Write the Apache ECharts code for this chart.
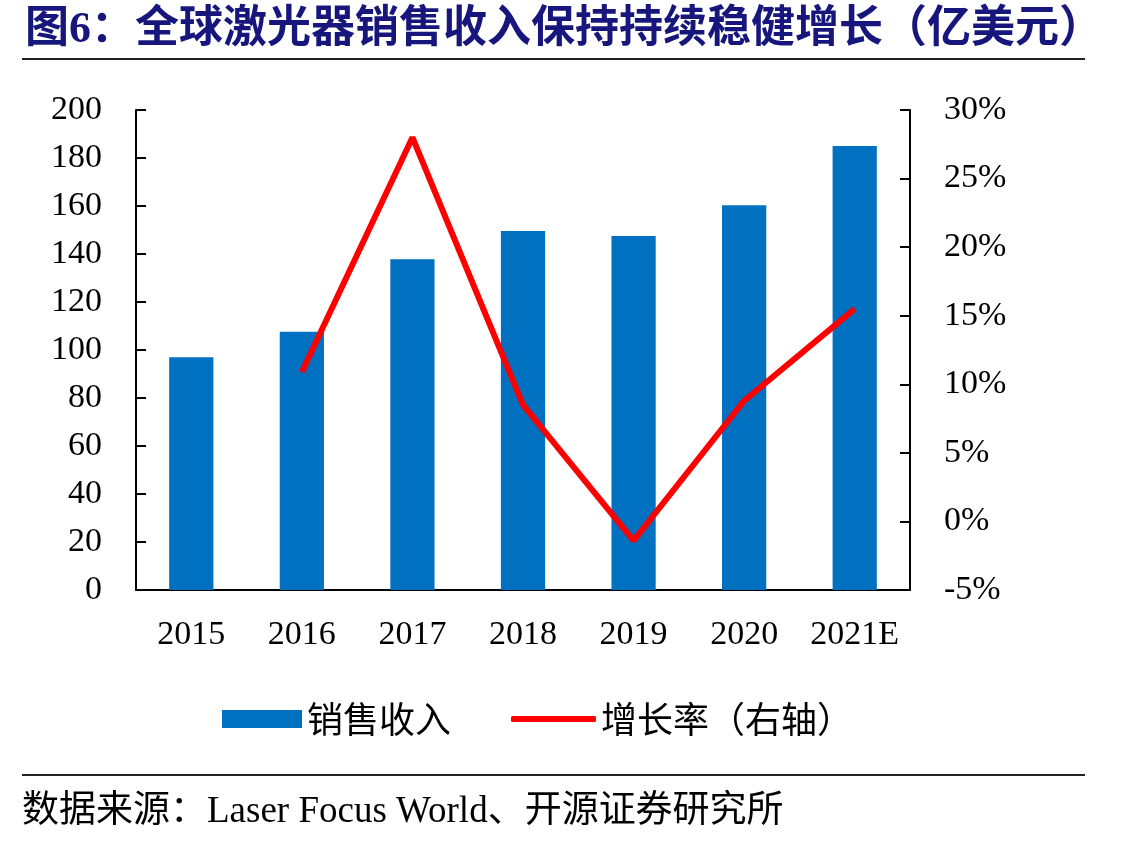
<!DOCTYPE html>
<html>
<head>
<meta charset="utf-8">
<script src="https://cdn.jsdelivr.net/npm/echarts@6/dist/echarts.min.js"></script>
<style>
  html, body { margin: 0; padding: 0; background: #fff; }
  #chart { width: 1137px; height: 844px; }
</style>
</head>
<body>
<div id="chart"></div>
<script>
const years = ["2015", "2016", "2017", "2018", "2019", "2020", "2021E"];
const revenue = [97, 107.6, 137.8, 149.6, 147.5, 160.3, 185];
const growth = [null, 10.9, 28.0, 8.5, -1.4, 8.8, 15.5];
const revenueName = "销售收入";
const growthName = "增长率（右轴）";

const serif = "'Liberation Serif', 'Noto Sans CJK SC', serif";
const cjk = "'Noto Sans CJK SC', sans-serif";

const chart = echarts.init(document.getElementById("chart"));

const legendText = { fontFamily: cjk, fontSize: 36, color: "#000" };

const option = {
  backgroundColor: "#fff",
  animation: false,
  title: {
    text: "图6：全球激光器销售收入保持持续稳健增长（亿美元）",
    left: 20,
    top: 4,
    textStyle: {
      fontFamily: serif,
      fontSize: 44,
      fontWeight: "bold",
      color: "#16167d",
    },
  },
  // two legends so each key can have its own height
  legend: [
    {
      left: 217,
      top: 696,
      itemWidth: 80,
      itemHeight: 18,
      textStyle: legendText,
      data: [{ name: revenueName, icon: "rect" }],
    },
    {
      left: 506,
      top: 696,
      itemWidth: 85,
      itemHeight: 6,
      textStyle: legendText,
      data: [{ name: growthName, icon: "roundRect" }],
    },
  ],
  grid: {
    left: 136,
    right: 227,
    top: 110,
    bottom: 254,
  },
  xAxis: {
    type: "category",
    data: years,
    axisLine: { lineStyle: { color: "#000", width: 2 } },
    axisTick: { inside: true, length: 10, lineStyle: { color: "#000", width: 2 } },
    axisLabel: { fontFamily: serif, fontSize: 34, color: "#000", margin: 28, interval: 0 },
  },
  yAxis: [
    {
      type: "value",
      min: 0,
      max: 200,
      interval: 20,
      splitLine: { show: false },
      axisLine: { show: true, lineStyle: { color: "#000", width: 2 } },
      axisTick: { show: true, inside: true, length: 10, lineStyle: { color: "#000", width: 2 } },
      axisLabel: { fontFamily: serif, fontSize: 34, color: "#000", margin: 34 },
    },
    {
      type: "value",
      min: -5,
      max: 30,
      interval: 5,
      splitLine: { show: false },
      axisLine: { show: true, lineStyle: { color: "#000", width: 2 } },
      axisTick: { show: true, inside: true, length: 10, lineStyle: { color: "#000", width: 2 } },
      axisLabel: {
        fontFamily: serif,
        fontSize: 34,
        color: "#000",
        margin: 34,
        formatter: "{value}%",
      },
    },
  ],
  series: [
    {
      name: revenueName,
      type: "bar",
      data: revenue,
      barWidth: "40%",
      itemStyle: { color: "#0070c0" },
    },
    {
      name: growthName,
      type: "line",
      yAxisIndex: 1,
      data: growth,
      symbol: "none",
      lineStyle: { color: "#ff0000", width: 6 },
      itemStyle: { color: "#ff0000" },
    },
  ],
  graphic: [
    {
      type: "line",
      shape: { x1: 22, y1: 59, x2: 1085, y2: 59 },
      style: { stroke: "#222", lineWidth: 2 },
    },
    {
      type: "line",
      shape: { x1: 22, y1: 775, x2: 1085, y2: 775 },
      style: { stroke: "#222", lineWidth: 2 },
    },
    {
      type: "text",
      left: 22,
      top: 794,
      style: {
        text: "数据来源：Laser Focus World、开源证券研究所",
        font: "37px " + serif,
        fill: "#000",
      },
    },
  ],
};

chart.setOption(option);
</script>
</body>
</html>
